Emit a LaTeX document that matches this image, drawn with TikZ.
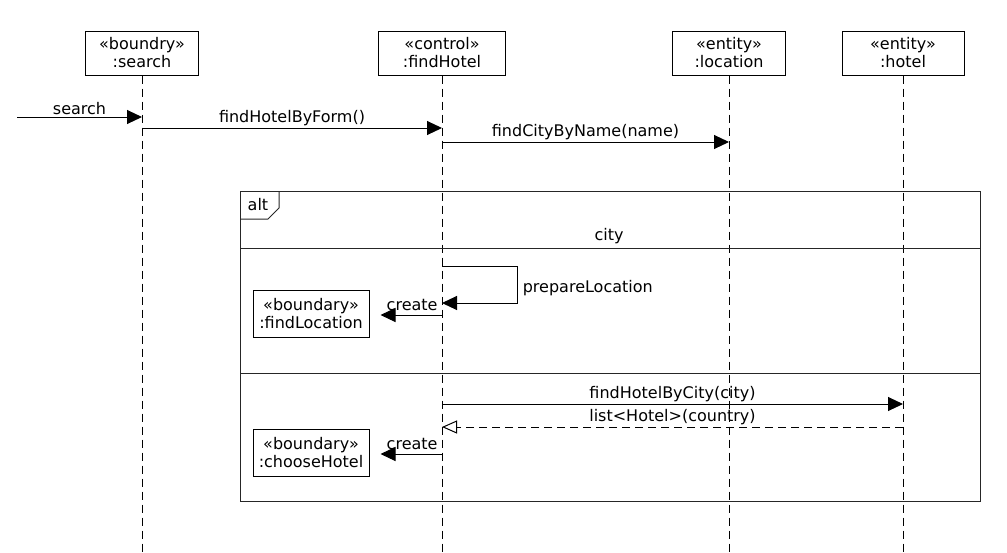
\documentclass[tikz,border=0pt]{standalone}
\usepackage{fontspec}
\setmainfont{DejaVu Sans}
\usetikzlibrary{arrows.meta,positioning}

\begin{document}
\begin{tikzpicture}[
        x=1pt, y=-1pt,
        font=\fontsize{16}{18}\selectfont,
        head/.style={draw, line width=1pt, align=center, minimum height=44pt, inner sep=0pt},
        obj/.style={draw, line width=1pt, align=center, minimum width=116pt, minimum height=47pt, inner sep=0pt},
        lifeline/.style={line width=1pt, dash pattern=on 8pt off 5pt},
        msg/.style={line width=1pt, -{Triangle[length=15pt,width=14pt]}},
        reply/.style={line width=1pt, dash pattern=on 8pt off 5pt, -{Triangle[open,length=15pt,width=13pt]}},
        frame/.style={line width=1pt, draw=black!85},
        lbl/.style={above, inner sep=2pt}
    ]
        \useasboundingbox (0,0) rectangle (1007,552);

        \node[head, minimum width=113pt] (search)    at (142,53) {«boundry»\\:search};
        \node[head, minimum width=127pt] (findHotel) at (442,53) {«control»\\:findHotel};
        \node[head, minimum width=113pt] (location)  at (729,53) {«entity»\\:location};
        \node[head, minimum width=122pt] (hotel)     at (903,53) {«entity»\\:hotel};

        \foreach \n in {search, findHotel, location, hotel}
            \draw[lifeline] (\n.south) -- (\n.south |- 0,552);

        \coordinate (in) at (17,117);
        \draw[msg] (in) -- node[lbl] {search} (search.south |- in);

        \coordinate (m1) at (search.south |- 0,128);
        \draw[msg] (m1) -- node[lbl] {findHotelByForm()} (findHotel.south |- m1);

        \coordinate (m2) at (findHotel.south |- 0,142);
        \draw[msg] (m2) -- node[lbl] {findCityByName(name)} (location.south |- m2);

        % alt fragment
        \coordinate (fnw) at (240,191);
        \coordinate (fse) at (980,501);
        \draw[frame] (fnw) rectangle (fse);
        \draw[frame] (fnw) ++(0,28) -- ++(28,0) -- ++(11,-11) -- ++(0,-17);
        \node (alt) at (258,205) {alt};
        \node (city) at (609,236) {city};
        \draw[frame] (fnw |- 0,248) -- (fse |- 0,248);
        \draw[frame] (fnw |- 0,373) -- (fse |- 0,373);

        \coordinate (p0) at (findHotel.south |- 0,266);
        \coordinate (p1) at (findHotel.south |- 0,303);
        \draw[msg] (p0) -- ++(75,0) |- node[pos=0.3, right=2pt] {prepareLocation} (p1);

        \node[obj] (findLocation) at (311,313.5) {«boundary»\\:findLocation};
        \coordinate (c1) at (findHotel.south |- 0,315);
        \draw[msg, shorten >=11pt] (c1) -- node[pos=0, anchor=south east, inner xsep=4pt, inner ysep=4pt] {create} (findLocation.east |- c1);

        \coordinate (m3) at (findHotel.south |- 0,404);
        \draw[msg] (m3) -- node[lbl] {findHotelByCity(city)} (hotel.south |- m3);

        \coordinate (r1) at (hotel.south |- 0,427);
        \draw[reply] (r1) -- node[lbl] {list<Hotel>(country)} (findHotel.south |- r1);

        \node[obj] (chooseHotel) at (311,452.5) {«boundary»\\:chooseHotel};
        \coordinate (c2) at (findHotel.south |- 0,454);
        \draw[msg, shorten >=11pt] (c2) -- node[pos=0, anchor=south east, inner xsep=4pt, inner ysep=4pt] {create} (chooseHotel.east |- c2);
    \end{tikzpicture}
\end{document}
